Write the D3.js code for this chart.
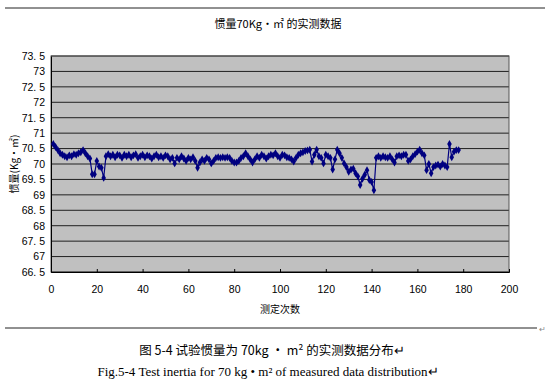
<!DOCTYPE html>
<html>
<head>
<meta charset="utf-8">
<script src="https://cdn.jsdelivr.net/npm/d3@7"></script>
<style>
  body { margin: 0; background: #fff; }
  svg { display: block; }
</style>
</head>
<body>
<div id="chart"></div>
<script>
// measured inertia values, one per run (runs 1..178)
const runValues = [
  70.65, 70.55, 70.45, 70.35, 70.3, 70.25, 70.22, 70.28, 70.25, 70.32,
  70.3, 70.35, 70.38, 70.45, 70.35, 70.25, 70.18, 69.67, 69.67, 70.1,
  69.92, 69.88, 69.55, 70.25, 70.32, 70.25, 70.3, 70.22, 70.3, 70.28,
  70.2, 70.3, 70.25, 70.3, 70.22, 70.28, 70.32, 70.2, 70.25, 70.3,
  70.22, 70.28, 70.25, 70.18, 70.25, 70.3, 70.22, 70.25, 70.2, 70.28,
  70.25, 70.15, 70.2, 70.02, 70.2, 70.15, 70.25, 70.18, 70.1, 70.2,
  70.15, 70.22, 70.1, 69.88, 70.05, 70.15, 70.1, 70.2, 70.15, 70.02,
  70.1, 70.2, 70.22, 70.2, 70.22, 70.2, 70.22, 70.2, 70.1, 70.05,
  70.05, 70.1, 70.2, 70.25, 70.35, 70.25, 70.15, 70.05, 70.15, 70.25,
  70.2, 70.3, 70.25, 70.18, 70.25, 70.3, 70.28, 70.35, 70.25, 70.2,
  70.3, 70.28, 70.22, 70.2, 70.15, 70.08, 70.2, 70.3, 70.35, 70.38,
  70.42, 70.44, 70.46, 70.08, 70.3, 70.46, 70.25, 70.2, 70.02, 70.3,
  70.25, 70.2, 69.82, 70.15, 70.46, 70.35, 70.2, 70.02, 69.9, 69.75,
  69.82, 69.85, 69.7, 69.6, 69.32, 69.52, 69.65, 69.8, 69.48, 69.42,
  69.15, 70.2, 70.25, 70.2, 70.25, 70.22, 70.2, 70.25, 70.15, 70.05,
  70.25, 70.28, 70.25, 70.3, 70.3, 70.1, 70.15, 70.25, 70.32, 70.4,
  70.46, 70.35, 70.28, 69.8, 70.0, 69.7, 69.9, 69.95, 69.98, 69.92,
  70.0, 69.95, 69.9, 70.65, 70.22, 70.4, 70.45, 70.45
];
const yTicks = [66.5, 67, 67.5, 68, 68.5, 69, 69.5, 70, 70.5, 71, 71.5, 72, 72.5, 73, 73.5];
const xTicks = [0, 20, 40, 60, 80, 100, 120, 140, 160, 180, 200];

const chartTitle = '惯量70Kg•㎡ 的实测数据';
const xTitle = '测定次数';
const yTitle = '惯量(Kg•㎡)';

const width = 550, height = 386;
const plot = { left: 51, right: 509, top: 56, bottom: 272 };

const svg = d3.select('#chart')
    .append('svg')
    .attr('width', width)
    .attr('height', height);

const x = d3.scaleLinear().domain([0, 200]).range([plot.left, plot.right]);
const y = d3.scaleLinear().domain([66.5, 73.5]).range([plot.bottom, plot.top]);

const tickFont = '"Liberation Sans", "DejaVu Sans", sans-serif';
const cjkFont = '"Noto Sans CJK SC", sans-serif';

// top rule of the figure frame
svg.append('line')
    .attr('x1', 5).attr('x2', 545)
    .attr('y1', 8).attr('y2', 8)
    .attr('stroke', '#222').attr('stroke-width', 1);

svg.append('text')
    .attr('x', 278).attr('y', 28)
    .attr('text-anchor', 'middle')
    .attr('font-family', cjkFont)
    .attr('font-size', 11)
    .attr('fill', '#000')
    .text(chartTitle);

// plot area
svg.append('rect')
    .attr('x', plot.left).attr('y', plot.top)
    .attr('width', plot.right - plot.left)
    .attr('height', plot.bottom - plot.top)
    .attr('fill', '#c0c0c0');

svg.append('g')
    .selectAll('line')
    .data(yTicks)
    .join('line')
    .attr('x1', plot.left).attr('x2', plot.right)
    .attr('y1', d => y(d)).attr('y2', d => y(d))
    .attr('stroke', '#202020')
    .attr('stroke-width', 1);

svg.append('rect')
    .attr('x', plot.left).attr('y', plot.top)
    .attr('width', plot.right - plot.left)
    .attr('height', plot.bottom - plot.top)
    .attr('fill', 'none')
    .attr('stroke', '#555')
    .attr('stroke-width', 1);

// axes
const yAxis = svg.append('g')
    .attr('transform', `translate(${plot.left},0)`)
    .call(d3.axisLeft(y).tickValues(yTicks).tickSize(0).tickPadding(6)
        .tickFormat(d => String(d).replace('.', '. ')));
yAxis.select('.domain').attr('stroke', '#000');
yAxis.selectAll('text')
    .attr('font-family', tickFont)
    .attr('font-size', 10.5)
    .attr('fill', '#000');

const xAxis = svg.append('g')
    .attr('transform', `translate(0,${plot.bottom})`)
    .call(d3.axisBottom(x).tickValues(xTicks).tickSize(-3).tickPadding(14));
xAxis.select('.domain').attr('stroke', '#000');
xAxis.selectAll('.tick line').attr('stroke', '#000');
xAxis.selectAll('text')
    .attr('font-family', tickFont)
    .attr('font-size', 10.5)
    .attr('fill', '#000');

svg.append('text')
    .attr('x', 280).attr('y', 313)
    .attr('text-anchor', 'middle')
    .attr('font-family', cjkFont)
    .attr('font-size', 10)
    .attr('fill', '#000')
    .text(xTitle);

svg.append('text')
    .attr('transform', `translate(18,${(plot.top + plot.bottom) / 2}) rotate(-90)`)
    .attr('text-anchor', 'middle')
    .attr('font-family', cjkFont)
    .attr('font-size', 10)
    .attr('fill', '#000')
    .text(yTitle);

// data series
const points = runValues.map((v, i) => ({ run: i + 1, value: v }));

const line = d3.line()
    .x(d => x(d.run))
    .y(d => y(d.value));

svg.append('path')
    .datum(points)
    .attr('d', line)
    .attr('fill', 'none')
    .attr('stroke', '#000080')
    .attr('stroke-width', 1.2);

svg.append('g')
    .selectAll('path')
    .data(points)
    .join('path')
    .attr('transform', d => `translate(${x(d.run)},${y(d.value)})`)
    .attr('d', d3.symbol(d3.symbolDiamond, 18))
    .attr('fill', '#000080');

// bottom rule and caption
svg.append('line')
    .attr('x1', 5).attr('x2', 537)
    .attr('y1', 328).attr('y2', 328)
    .attr('stroke', '#222').attr('stroke-width', 1);

svg.append('text')
    .attr('x', 539).attr('y', 332)
    .attr('font-size', 8).attr('fill', '#888')
    .text('↵');

svg.append('text')
    .attr('x', 272).attr('y', 355)
    .attr('text-anchor', 'middle')
    .attr('font-family', cjkFont)
    .attr('font-size', 12.5)
    .attr('fill', '#000')
    .text('图 5-4 试验惯量为 70kg • m² 的实测数据分布↵');

svg.append('text')
    .attr('x', 268).attr('y', 376)
    .attr('text-anchor', 'middle')
    .attr('font-family', '"Liberation Serif", serif')
    .attr('font-size', 13)
    .attr('fill', '#000')
    .text('Fig.5-4 Test inertia for 70 kg • m² of measured data distribution↵');
</script>
</body>
</html>
